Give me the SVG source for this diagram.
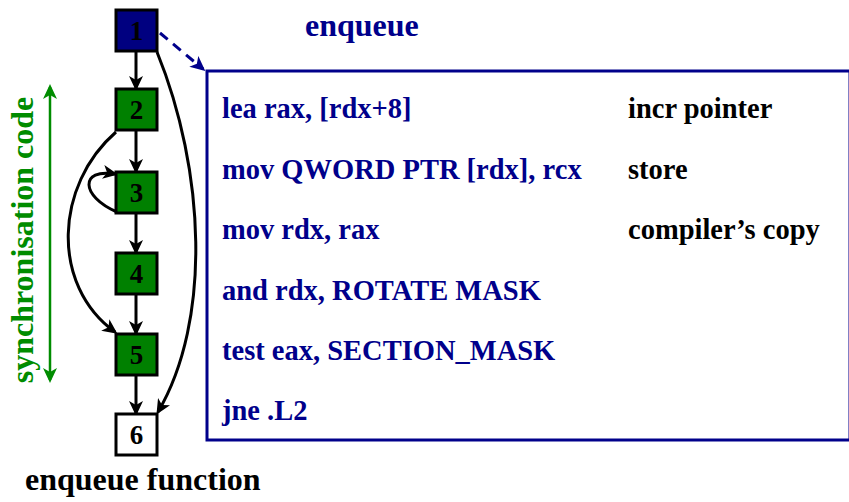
<svg xmlns="http://www.w3.org/2000/svg" width="849" height="502" viewBox="0 0 849 502">
<style>
  .node rect { stroke: #000; stroke-width: 3; }
  .num { font-family: "Liberation Serif", "Times New Roman", serif; font-weight: bold; font-size: 27px; fill: #000; text-anchor: middle; }
  .code { font-family: "Liberation Serif", "Times New Roman", serif; font-weight: bold; font-size: 28.5px; fill: #00008B; }
  .cmt { font-family: "Liberation Serif", "Times New Roman", serif; font-weight: bold; font-size: 28.5px; fill: #000; }
  .title { font-family: "Liberation Serif", "Times New Roman", serif; font-weight: bold; font-size: 32px; }
  .edge { fill: none; stroke: #000; stroke-width: 3; marker-end: url(#ah); }
</style>
<defs>
  <marker id="ah" markerUnits="userSpaceOnUse" markerWidth="16" markerHeight="14" refX="12" refY="7" orient="auto">
    <path d="M0,0 L15,7 L0,14 L4,7 z" fill="#000"/>
  </marker>
  <marker id="ahb" markerUnits="userSpaceOnUse" markerWidth="16" markerHeight="14" refX="12" refY="7" orient="auto">
    <path d="M0,0 L15,7 L0,14 L4,7 z" fill="#00008B"/>
  </marker>
  <marker id="ahg" markerUnits="userSpaceOnUse" markerWidth="16" markerHeight="14" refX="12" refY="7" orient="auto-start-reverse">
    <path d="M0,0 L15,7 L0,14 L4,7 z" fill="#008C00"/>
  </marker>
</defs>
<rect width="849" height="502" fill="#fff"/>

<g id="code-box">
  <rect x="207" y="71" width="643" height="369" fill="#fff" stroke="#00008B" stroke-width="3"/>
  <text class="code" x="222" y="118">lea rax, [rdx+8]</text>
  <text class="code" x="222" y="178.5">mov QWORD PTR [rdx], rcx</text>
  <text class="code" x="222" y="239">mov rdx, rax</text>
  <text class="code" x="222" y="299.5">and rdx, ROTATE MASK</text>
  <text class="code" x="222" y="360">test eax, SECTION_MASK</text>
  <text class="code" x="222" y="420">jne .L2</text>
  <text class="cmt" x="628" y="118">incr pointer</text>
  <text class="cmt" x="628" y="178.5">store</text>
  <text class="cmt" x="628" y="239">compiler’s copy</text>
</g>

<text class="title" x="305" y="36" fill="#00008B" font-size="31">enqueue</text>
<text class="title" x="25" y="490" fill="#000">enqueue function</text>

<g id="sync">
  <line x1="50" y1="87" x2="50" y2="380" stroke="#008C00" stroke-width="2.5" marker-start="url(#ahg)" marker-end="url(#ahg)"/>
  <text class="title" transform="translate(33,240) rotate(-90)" text-anchor="middle" fill="#008C00">synchronisation code</text>
</g>

<g id="connectors">
  <line class="edge" x1="136" y1="52" x2="136" y2="88"/>
  <line class="edge" x1="136" y1="131" x2="136" y2="171"/>
  <line class="edge" x1="136" y1="214" x2="136" y2="252"/>
  <line class="edge" x1="136" y1="295" x2="136" y2="333"/>
  <line class="edge" x1="136" y1="376" x2="136" y2="413"/>
  <path class="edge" d="M157,52 C205,170 212,320 158,412"/>
  <path class="edge" d="M116,132 C55,185 50,285 115,332"/>
  <path class="edge" d="M117,212 C80,196 80,168 115,174"/>
  <line x1="160" y1="33" x2="203" y2="69" stroke="#00008B" stroke-width="3" stroke-dasharray="10,7" marker-end="url(#ahb)"/>
</g>

<g id="n1" class="node"><rect x="116" y="10" width="41" height="41" fill="#000080"/><text class="num" x="136.5" y="40">1</text></g>
<g id="n2" class="node"><rect x="116" y="89" width="41" height="41" fill="#008000"/><text class="num" x="136.5" y="119">2</text></g>
<g id="n3" class="node"><rect x="116" y="172" width="41" height="41" fill="#008000"/><text class="num" x="136.5" y="202">3</text></g>
<g id="n4" class="node"><rect x="116" y="253" width="41" height="41" fill="#008000"/><text class="num" x="136.5" y="283">4</text></g>
<g id="n5" class="node"><rect x="116" y="334" width="41" height="41" fill="#008000"/><text class="num" x="136.5" y="364">5</text></g>
<g id="n6" class="node"><rect x="116" y="414" width="41" height="41" fill="#fff"/><text class="num" x="136.5" y="444">6</text></g>
</svg>
